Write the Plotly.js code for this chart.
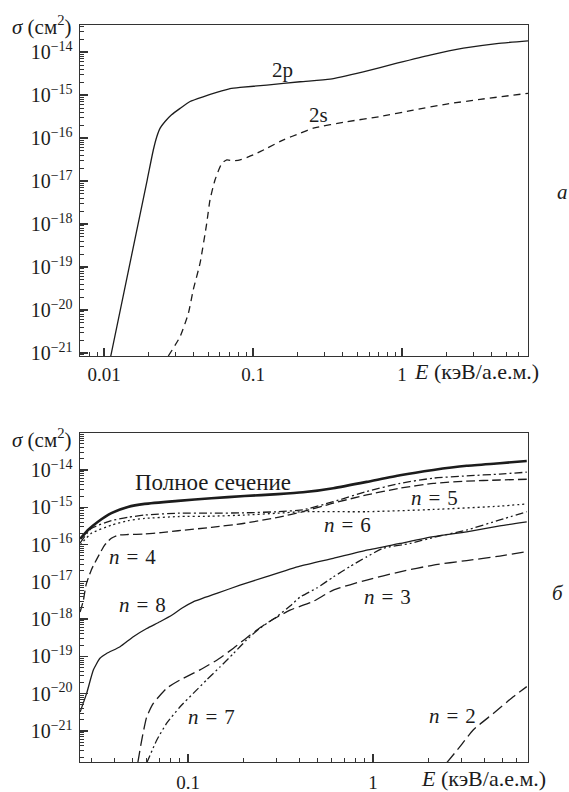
<!DOCTYPE html>
<html>
<head>
<meta charset="utf-8">
<script src="https://cdn.plot.ly/plotly-3.0.1.min.js"></script>
<style>html,body{margin:0;padding:0;background:#fff;}#chart{width:569px;height:792px;}</style>
</head>
<body>
<div id="chart"></div>
<script>
// ---- Panel a (top): 2p and 2s ----
const E_2p = [0.0111, 0.0195, 0.0214, 0.0226, 0.0238, 0.0256, 0.0284, 0.0324, 0.0378, 0.0462, 0.0570, 0.0701, 0.0818, 0.1236, 0.207, 0.329, 0.549, 0.923, 1.54, 2.58, 4.32, 7.0];
const S_2p = [8.5e-22, 1.07e-17, 5.2e-17, 1.07e-16, 1.70e-16, 2.40e-16, 3.47e-16, 4.9e-16, 7.08e-16, 9.12e-16, 1.15e-15, 1.41e-15, 1.51e-15, 1.70e-15, 2.04e-15, 2.34e-15, 3.47e-15, 5.50e-15, 8.51e-15, 1.23e-14, 1.58e-14, 1.82e-14];
const E_2s = [0.0270, 0.0324, 0.0368, 0.0397, 0.0441, 0.0489, 0.0514, 0.0556, 0.0617, 0.0667, 0.0738, 0.0818, 0.1005, 0.1236, 0.160, 0.207, 0.254, 0.426, 0.711, 1.19, 1.99, 3.34, 7.0];
const S_2s = [8.5e-22, 2.4e-21, 8.3e-21, 2.95e-20, 1.23e-19, 1.05e-18, 3.6e-18, 1.07e-17, 2.57e-17, 3.1e-17, 2.95e-17, 3.1e-17, 4.07e-17, 5.75e-17, 9.1e-17, 1.29e-16, 1.70e-16, 2.40e-16, 3.16e-16, 4.47e-16, 6.17e-16, 7.94e-16, 1.10e-15];

// ---- Panel b (bottom): total and n = 2..8 ----
const E_tot = [0.0261, 0.0288, 0.0326, 0.0385, 0.0473, 0.0583, 0.0883, 0.1337, 0.202, 0.306, 0.418, 0.610, 0.925, 1.40, 2.12, 3.21, 4.85, 6.78];
const S_tot = [1.41e-16, 2.45e-16, 4.07e-16, 6.92e-16, 1.02e-15, 1.23e-15, 1.48e-15, 1.74e-15, 2.0e-15, 2.24e-15, 2.51e-15, 3.24e-15, 4.79e-15, 7.24e-15, 1.0e-14, 1.29e-14, 1.51e-14, 1.74e-14];
const E_n4 = [0.0261, 0.0272, 0.0281, 0.0300, 0.0326, 0.0355, 0.0385, 0.0418, 0.0473, 0.0583, 0.0716, 0.0883, 0.1337, 0.202, 0.306, 0.418, 0.610, 0.925, 1.40, 2.12, 3.21, 4.85, 6.78];
const S_n4 = [1.55e-18, 3.24e-18, 8.3e-18, 2.09e-17, 4.68e-17, 9.77e-17, 1.48e-16, 1.78e-16, 1.86e-16, 1.91e-16, 2.09e-16, 2.34e-16, 2.88e-16, 3.72e-16, 5.37e-16, 7.59e-16, 1.29e-15, 2.14e-15, 3.24e-15, 4.37e-15, 5.01e-15, 5.37e-15, 5.62e-15];
const E_n5 = [0.0261, 0.0300, 0.0385, 0.0473, 0.0583, 0.0883, 0.1337, 0.202, 0.306, 0.418, 0.610, 0.925, 1.40, 2.12, 3.21, 4.85, 6.78];
const S_n5 = [1.10e-16, 2.69e-16, 4.37e-16, 5.37e-16, 6.17e-16, 6.92e-16, 6.92e-16, 7.08e-16, 7.59e-16, 8.51e-16, 1.41e-15, 2.63e-15, 4.37e-15, 6.03e-15, 6.92e-15, 7.76e-15, 8.71e-15];
const E_n6 = [0.0261, 0.0300, 0.0385, 0.0473, 0.0583, 0.0883, 0.1337, 0.202, 0.306, 0.418, 0.925, 2.12, 4.85, 6.78];
const S_n6 = [9.77e-17, 2.0e-16, 3.31e-16, 4.37e-16, 5.01e-16, 5.62e-16, 5.75e-16, 6.17e-16, 6.92e-16, 7.59e-16, 7.59e-16, 8.71e-16, 1.07e-15, 1.23e-15];
const E_n8 = [0.0261, 0.0283, 0.0308, 0.0334, 0.0363, 0.0429, 0.0506, 0.0598, 0.0705, 0.0832, 0.0925, 0.1067, 0.143, 0.191, 0.266, 0.403, 0.610, 0.925, 1.40, 2.12, 3.21, 4.85, 6.78];
const S_n8 = [3.24e-21, 1.02e-20, 4.37e-20, 8.91e-20, 1.20e-19, 1.82e-19, 3.39e-19, 5.62e-19, 8.51e-19, 1.35e-18, 1.95e-18, 2.9e-18, 4.90e-18, 8.13e-18, 1.38e-17, 2.63e-17, 4.27e-17, 7.08e-17, 1.07e-16, 1.62e-16, 2.19e-16, 3.16e-16, 4.07e-16];
const E_n3 = [0.0535, 0.0562, 0.0598, 0.0649, 0.0767, 0.0906, 0.116, 0.143, 0.176, 0.216, 0.266, 0.356, 0.475, 0.610, 0.925, 1.40, 2.12, 3.21, 4.85, 6.78];
const S_n3 = [1.4e-22, 5.75e-22, 2.4e-21, 5.5e-21, 1.41e-20, 2.34e-20, 4.37e-20, 7.94e-20, 1.66e-19, 3.72e-19, 7.76e-19, 1.74e-18, 3.0e-18, 6.0e-18, 1.12e-17, 1.86e-17, 2.82e-17, 3.72e-17, 4.90e-17, 6.46e-17];
const E_n7 = [0.0598, 0.0678, 0.0767, 0.0906, 0.1067, 0.126, 0.149, 0.176, 0.207, 0.245, 0.301, 0.356, 0.403, 0.495, 0.610, 0.750, 0.925, 1.135, 1.585, 2.12, 3.21, 4.85, 6.78];
const S_n7 = [1.4e-22, 5.75e-22, 1.62e-21, 4.47e-21, 1.02e-20, 2.34e-20, 5.25e-20, 1.20e-19, 2.75e-19, 5.75e-19, 1.15e-18, 2.24e-18, 3.89e-18, 6.76e-18, 1.35e-17, 2.57e-17, 4.68e-17, 7.94e-17, 1.07e-16, 1.55e-16, 2.45e-16, 4.57e-16, 7.59e-16];
const E_n2 = [2.50, 2.95, 3.48, 4.47, 5.73, 6.78];
const S_n2 = [1.4e-22, 3.8e-22, 1.07e-21, 2.95e-21, 8.3e-21, 1.55e-20];

// ---- tick labels ----
const xTopVals = [0.01, 0.1, 1];
const xTopText = ['0.01', '0.1', '1'];
const xBotVals = [0.1, 1];
const xBotText = ['0.1', '1'];
const yExps = [-21, -20, -19, -18, -17, -16, -15, -14];

const yVals = yExps.map(e => Math.pow(10, e));
const yText = yExps.map(e => '10<sup>\u2212' + Math.abs(e) + '</sup>');

function minorVals(lo, hi) {
  const v = [];
  for (let k = lo; k <= hi; k++) for (let m = 2; m <= 9; m++) v.push(m * Math.pow(10, k));
  return v;
}

const INK = '#1c1c1c';
const AX = '#333';
const FONT = 'Liberation Serif';
const SP = '\u2004';

function line(x, y, xa, ya, dash, width) {
  return {x: x, y: y, xaxis: xa, yaxis: ya, type: 'scatter', mode: 'lines',
          line: {color: INK, width: width || 1.3, dash: dash || 'solid', shape: 'spline', smoothing: 0.5},
          hoverinfo: 'skip', showlegend: false};
}

const traces = [
  line(E_2p, S_2p, 'x', 'y', 'solid', 1.3),
  line(E_2s, S_2s, 'x', 'y', '7px,5px', 1.3),
  line(E_tot, S_tot, 'x2', 'y2', 'solid', 2.6),
  line(E_n4, S_n4, 'x2', 'y2', '9px,4px', 1.3),
  line(E_n5, S_n5, 'x2', 'y2', '8px,3px,2px,3px', 1.3),
  line(E_n6, S_n6, 'x2', 'y2', '2px,3px', 1.3),
  line(E_n8, S_n8, 'x2', 'y2', 'solid', 1.3),
  line(E_n3, S_n3, 'x2', 'y2', '12px,5px', 1.3),
  line(E_n7, S_n7, 'x2', 'y2', '8px,3px,2px,3px,2px,3px', 1.3),
  line(E_n2, S_n2, 'x2', 'y2', '12px,5px', 1.3)
];

function xaxis(range, vals, text, anchor, minLo, minHi, standoff) {
  return {type: 'log', range: range, anchor: anchor, domain: [0, 1],
    showline: true, mirror: true, linecolor: AX, linewidth: 1.4,
    showgrid: false, zeroline: false,
    tickmode: 'array', tickvals: vals, ticktext: text,
    ticks: 'inside', ticklen: 8, tickwidth: 1.3, tickcolor: AX,
    ticklabelstandoff: standoff,
    tickfont: {family: FONT, size: 19, color: INK},
    minor: {tickmode: 'array', tickvals: minorVals(minLo, minHi), ticks: 'inside', ticklen: 4, tickwidth: 1, tickcolor: AX, showgrid: false}};
}
function yaxis(range, domain, anchor) {
  return {type: 'log', range: range, anchor: anchor, domain: domain,
    showline: true, mirror: true, linecolor: AX, linewidth: 1.4,
    showgrid: false, zeroline: false,
    tickmode: 'array', tickvals: yVals, ticktext: yText,
    ticks: 'inside', ticklen: 8, tickwidth: 1.3, tickcolor: AX,
    ticklabelstandoff: 2,
    tickfont: {family: FONT, size: 20, color: INK},
    minor: {tickmode: 'array', tickvals: minorVals(-23, -14), ticks: 'inside', ticklen: 4, tickwidth: 1, tickcolor: AX, showgrid: false}};
}

function ann(text, x, y, size, opts) {
  return Object.assign({text: text, x: x, y: y, xref: 'paper', yref: 'paper', showarrow: false,
    xanchor: 'center', yanchor: 'middle', borderpad: 0, font: {family: FONT, size: size, color: INK}}, opts || {});
}
function nLabel(k) { return '<i>n</i>' + SP + '=' + SP + k; }

const sigmaText = '<i>\u03c3</i> (см<sup>2</sup>)';
const eText = '<i>E</i> (кэВ/а.е.м.)';

const layout = {
  width: 569, height: 792,
  margin: {l: 80, r: 41, t: 25, b: 30},
  paper_bgcolor: '#fff', plot_bgcolor: '#fff',
  font: {family: FONT, color: INK},
  showlegend: false,
  xaxis: xaxis([Math.log10(0.0069), Math.log10(7.0)], xTopVals, xTopText, 'y', -3, 0, 1),
  yaxis: yaxis([-21.07, -13.37], [0.5509, 1], 'x'),
  xaxis2: xaxis([-1.584, 0.838], xBotVals, xBotText, 'y2', -2, 0, 3),
  yaxis2: yaxis([-21.83, -13.01], [0, 0.4464], 'x2'),
  annotations: [
    ann(sigmaText, -0.0156, 1.0, 21, {xanchor: 'right'}),
    ann(eText, 0.7433, 0.5292, 22, {xanchor: 'left'}),
    ann('2p', 0.4509, 0.9389, 21),
    ann('2s', 0.5313, 0.8779, 21),
    ann('<i>а</i>', 1.0759, 0.7734, 21),
    ann(sigmaText, -0.0156, 0.4396, 21, {xanchor: 'right'}),
    ann(eText, 0.7589, -0.0225, 22, {xanchor: 'left'}),
    ann('Полное сечение', 0.2969, 0.3786, 23),
    ann(nLabel(4), 0.1183, 0.2782, 21),
    ann(nLabel(5), 0.7924, 0.3582, 21),
    ann(nLabel(6), 0.5960, 0.3216, 21),
    ann(nLabel(8), 0.1406, 0.2130, 21),
    ann(nLabel(3), 0.6853, 0.2239, 21),
    ann(nLabel(7), 0.2946, 0.0611, 21),
    ann(nLabel(2), 0.8304, 0.0624, 21),
    ann('<i>б</i>', 1.0670, 0.2293, 21)
  ]
};

Plotly.newPlot('chart', traces, layout, {staticPlot: true, displayModeBar: false});
</script>
</body>
</html>
